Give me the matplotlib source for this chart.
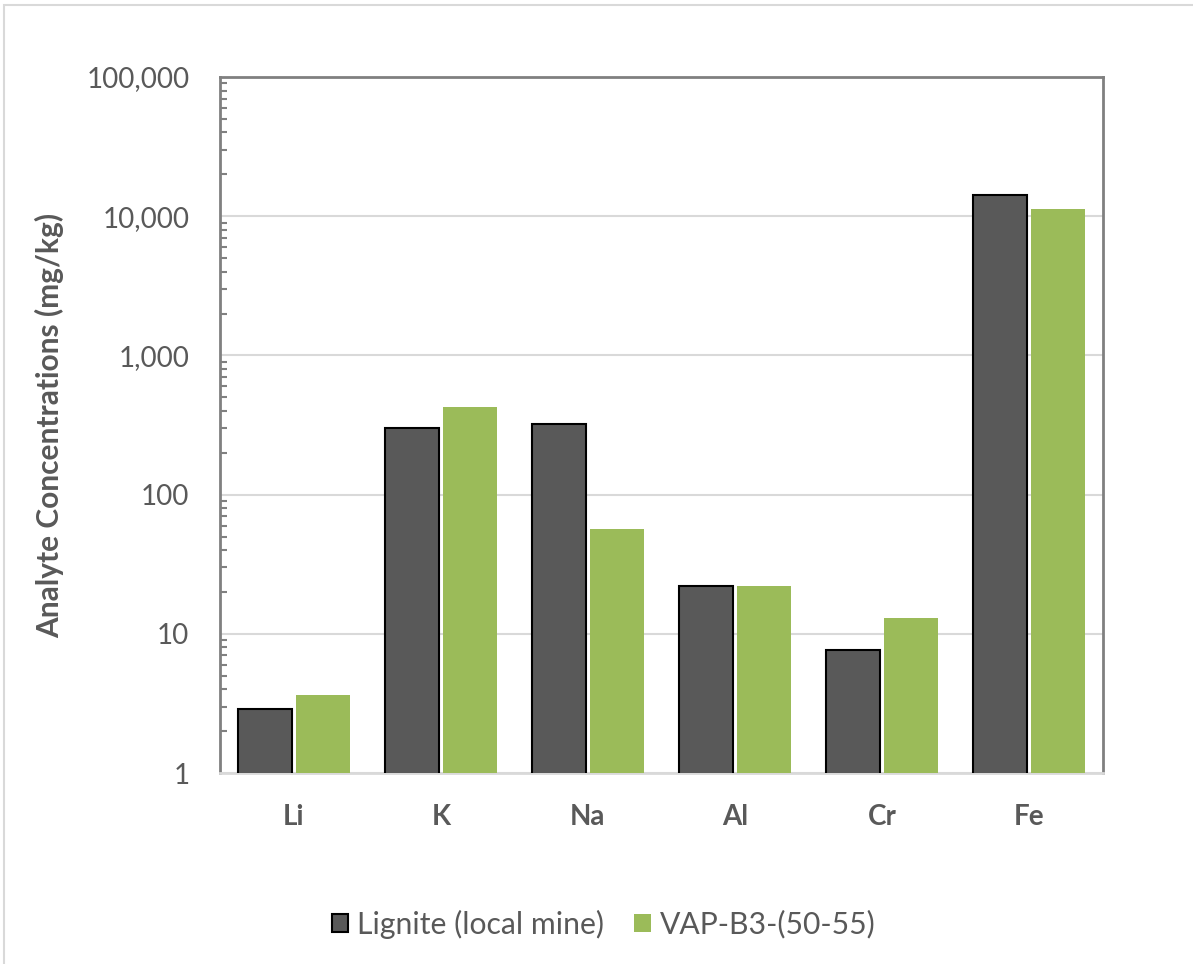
import matplotlib.pyplot as plt
import numpy as np
from matplotlib.patches import Rectangle
from matplotlib.ticker import FixedLocator, FuncFormatter, LogLocator, NullFormatter

plt.rcParams['font.family'] = ['Lato', 'DejaVu Sans']

elements = ['Li', 'K', 'Na', 'Al', 'Cr', 'Fe']
lignite = [2.9, 301, 321, 22.0, 7.7, 14200]
vap = [3.65, 426, 56.6, 22.1, 13.0, 11200]
series_names = ['Lignite (local mine)', 'VAP-B3-(50-55)']

grey = '#595959'
dark = '#595959'
green = '#9bbb59'

fig = plt.figure(figsize=(11.93, 9.64), dpi=100)
ax = fig.add_axes([0.1844, 0.1981, 0.7402, 0.722])

# light frame around the whole chart
fig.patches.append(Rectangle((4 / 1193, -0.1), 1.2, 1 - 5 / 964 + 0.1,
                             transform=fig.transFigure, fill=False,
                             edgecolor='#d9d9d9', linewidth=1.5))

x = np.arange(len(elements))
w = 0.367
off = 0.197
ax.bar(x - off, lignite, w, color=dark, edgecolor='black', linewidth=1.5,
       label=series_names[0], zorder=3)
ax.bar(x + off, vap, w, color=green, edgecolor='none',
       label=series_names[1], zorder=3)

ax.set_yscale('log')
ax.set_ylim(1, 100000)
ax.set_xlim(-0.5, len(elements) - 0.5)
ax.yaxis.set_major_locator(FixedLocator([1, 10, 100, 1000, 10000, 100000]))
ax.yaxis.set_major_formatter(FuncFormatter(lambda v, p: f'{v:,.0f}'))
ax.yaxis.set_minor_locator(LogLocator(base=10, subs=np.arange(2, 10)))
ax.yaxis.set_minor_formatter(NullFormatter())
ax.grid(axis='y', which='major', color='#d9d9d9', linewidth=1.5, zorder=0)

ax.tick_params(axis='y', which='major', length=0, pad=22,
               labelsize=20, labelcolor=grey)
ax.tick_params(axis='y', which='minor', direction='in', length=5,
               width=1.5, color='#808080')
ax.set_xticks(x)
ax.set_xticklabels(elements, fontweight='bold')
ax.tick_params(axis='x', length=0, pad=22, labelsize=20, labelcolor=grey)

for side in ['left', 'top', 'right']:
    ax.spines[side].set_color('#808080')
    ax.spines[side].set_linewidth(2)
ax.spines['bottom'].set_color('#d9d9d9')
ax.spines['bottom'].set_linewidth(2)

ax.set_ylabel('Analyte Concentrations (mg/kg)', fontsize=21.5,
              fontweight='bold', color=grey, labelpad=16)

fig.legend(loc='center', bbox_to_anchor=(0.506, 1 - 924 / 964), ncol=2,
           frameon=False, fontsize=21.7, labelcolor=grey,
           handlelength=0.55, handleheight=0.55, handletextpad=0.3,
           columnspacing=1.0)

fig.savefig('out.png', dpi=100)
